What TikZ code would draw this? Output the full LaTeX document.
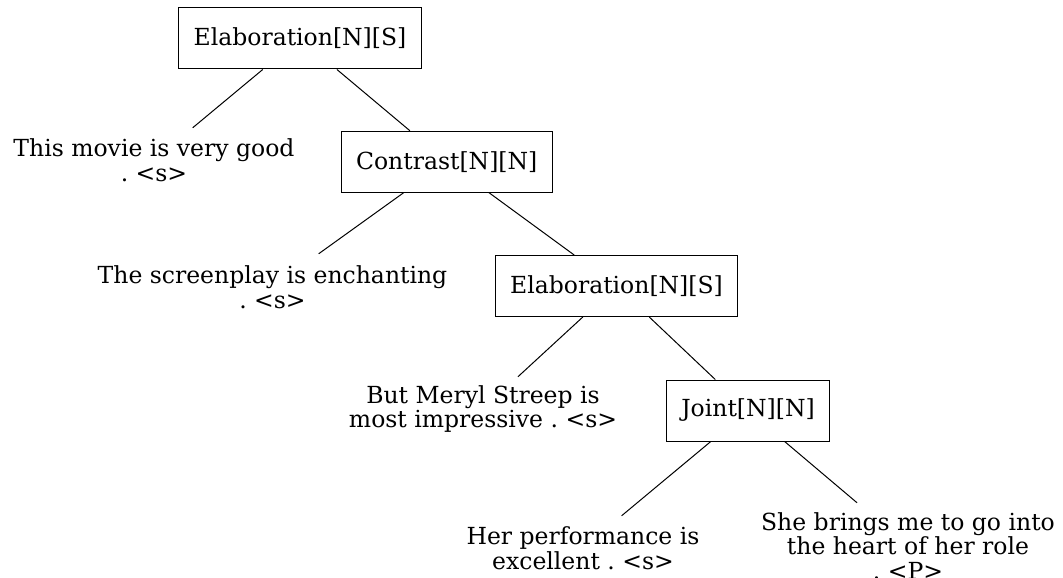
\documentclass[tikz,border=0pt]{standalone}
\usepackage{fontspec}
\setmainfont{DejaVu Serif}
\frenchspacing
\begin{document}
\begin{tikzpicture}[x=1bp,y=-1bp,
  every node/.style={font=\fontsize{23.5bp}{24.5bp}\selectfont},
  relbox/.style={draw, line width=1bp, rectangle, minimum height=61bp, inner xsep=15bp, inner ysep=0bp},
  leaf/.style={rectangle, align=center, minimum height=#1, inner xsep=2bp, inner ysep=0bp},
  leaf/.default=64bp,
  edge/.style={line width=1bp}]
\path[use as bounding box] (0,0) rectangle (1063,578);
\node[relbox] (e1) at (300,38.5) {Elaboration[N][S]};
\node[relbox] (c) at (446.7,161.7) {Contrast[N][N]};
\node[relbox] (e2) at (616.5,286) {Elaboration[N][S]};
\node[relbox] (j) at (748,410.5) {Joint[N][N]};
\node[leaf] (l1) at (154,160) {This movie is very good\\. <s>};
\node[leaf=66bp] (l2) at (272.5,287) {The screenplay is enchanting\\. <s>};
\node[leaf] (l3) at (483,409) {But Meryl Streep is\\most impressive . <s>};
\node[leaf] (l4) at (583,548) {Her performance is\\excellent . <s>};
\node[leaf=86bp] (l5) at (908,546) {She brings me to go into\\the heart of her role\\. <P>};
\draw[edge] (e1) -- (l1);
\draw[edge] (e1) -- (c);
\draw[edge] (c) -- (l2);
\draw[edge] (c) -- (e2);
\draw[edge] (e2) -- (l3);
\draw[edge] (e2) -- (j);
\draw[edge] (j) -- (l4);
\draw[edge] (j) -- (l5);
\end{tikzpicture}
\end{document}
